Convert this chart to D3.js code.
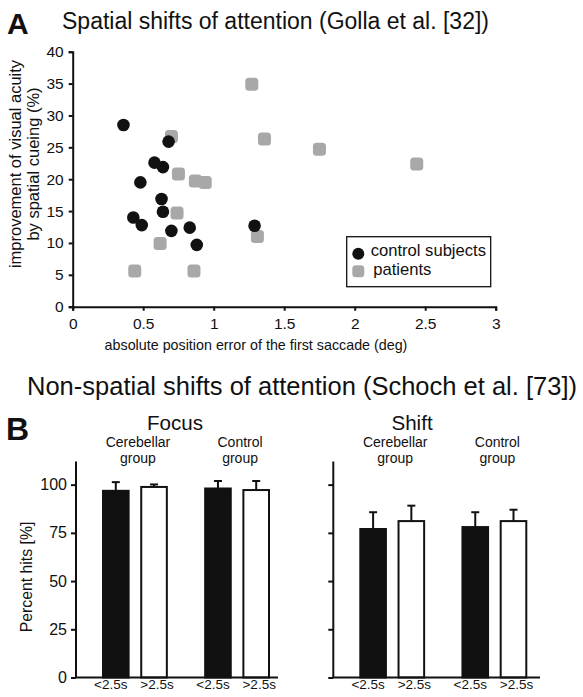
<!DOCTYPE html>
<html>
<head>
<meta charset="utf-8">
<script src="https://cdn.jsdelivr.net/npm/d3@7"></script>
<style>
  body { margin: 0; background: #fff; }
  text { font-family: "Liberation Sans", Arial, sans-serif; fill: #111; }
</style>
</head>
<body>
<script>
// ---- panel A data (scatter) ----
const controlX = [0.36, 0.68, 0.58, 0.64, 0.48, 0.63, 0.64, 0.43, 0.49, 0.70, 0.83, 0.88, 1.29]
const controlY = [28.5, 25.9, 22.6, 21.9, 19.5, 16.9, 14.9, 14.0, 12.8, 11.9, 12.4, 9.7, 12.7]
const patientX = [1.27, 0.70, 1.36, 1.75, 2.44, 0.75, 0.87, 0.94, 0.74, 1.31, 0.62, 0.44, 0.86]
const patientY = [34.9, 26.7, 26.3, 24.7, 22.4, 20.8, 19.7, 19.5, 14.7, 11.0, 9.9, 5.6, 5.6]
const scatterXTicks = [0, 0.5, 1, 1.5, 2, 2.5, 3]
const scatterYTicks = [0, 5, 10, 15, 20, 25, 30, 35, 40]
const legendLabels = ["control subjects", "patients"]

// ---- panel B data (bars) ----
const groups = ["Cerebellar group", "Control group"]
const conditions = ["<2.5s", ">2.5s"]
const focusMeans = [96.8, 98.8, 98.0, 97.2]
const focusSD = [4.5, 1.3, 3.9, 4.7]
const shiftMeans = [77.0, 81.1, 78.0, 81.1]
const shiftSD = [8.7, 8.0, 7.7, 5.9]
const barYTicks = [0, 25, 50, 75, 100]

const svg = d3.select("body")
              .append("svg")
              .attr("width", 583)
              .attr("height", 697)

const black = "#111"
const grey = "#a8a8a8"

// ================= panel A =================
svg.append("text").attr("x", 7).attr("y", 34)
   .text("A").attr("font-size", "30px").attr("font-weight", "bold")
svg.append("text").attr("x", 62).attr("y", 29)
   .text("Spatial shifts of attention (Golla et al. [32])").attr("font-size", "23px")

const xs = d3.scaleLinear().domain([0, 3]).range([72.7, 495.7])
const ys = d3.scaleLinear().domain([0, 40]).range([306.7, 51.7])

const axA = svg.append("g")
axA.append("g").attr("transform", "translate(0,306.7)")
   .call(d3.axisBottom(xs).tickValues(scatterXTicks).tickSize(4).tickPadding(7).tickFormat(d3.format("")))
axA.append("g").attr("transform", "translate(72.7,0)")
   .call(d3.axisLeft(ys).tickValues(scatterYTicks).tickSize(4).tickPadding(5))
axA.selectAll(".domain, .tick line").attr("stroke", black).attr("stroke-width", 2)
axA.selectAll("text").attr("font-size", "15.5px").attr("font-family", "Liberation Sans, Arial, sans-serif").attr("fill", black)

svg.append("text").attr("x", 256).attr("y", 350).attr("text-anchor", "middle")
   .text("absolute position error of the first saccade (deg)").attr("font-size", "14.3px")

const yl = svg.append("text").attr("transform", "translate(0,164) rotate(-90)")
   .attr("text-anchor", "middle").attr("font-size", "16.5px")
yl.append("tspan").attr("x", 0).attr("y", 21).text("improvement of visual acuity")
yl.append("tspan").attr("x", 0).attr("y", 39).text("by spatial cueing (%)")

const patients = patientX.map((x, i) => ({x: x, y: patientY[i]}))
const controls = controlX.map((x, i) => ({x: x, y: controlY[i]}))

svg.append("g").selectAll("rect").data(patients).enter().append("rect")
   .attr("x", d => xs(d.x) - 6.5).attr("y", d => ys(d.y) - 6.5)
   .attr("width", 13).attr("height", 13).attr("rx", 3.5)
   .attr("fill", grey)
svg.append("g").selectAll("circle").data(controls).enter().append("circle")
   .attr("cx", d => xs(d.x)).attr("cy", d => ys(d.y)).attr("r", 6.3)
   .attr("fill", black)

// legend
const lg = svg.append("g").attr("transform", "translate(346.7,236.7)")
lg.append("rect").attr("width", 144).attr("height", 50)
  .attr("fill", "#fff").attr("stroke", black).attr("stroke-width", 1.3)
lg.append("circle").attr("cx", 11.6).attr("cy", 17).attr("r", 6).attr("fill", black)
lg.append("rect").attr("x", 5.6).attr("y", 28.5).attr("width", 12).attr("height", 12).attr("rx", 3.5).attr("fill", grey)
lg.append("text").attr("x", 24).attr("y", 19.5).text(legendLabels[0]).attr("font-size", "16.6px")
lg.append("text").attr("x", 26.6).attr("y", 38.5).text(legendLabels[1]).attr("font-size", "16.6px")

// ================= panel B =================
svg.append("text").attr("x", 27).attr("y", 395)
   .text("Non-spatial shifts of attention (Schoch et al. [73])").attr("font-size", "25.5px")
svg.append("text").attr("x", 6).attr("y", 440)
   .text("B").attr("font-size", "32px").attr("font-weight", "bold")

function barPanel(x0, x1, title, titleX, means, sd, showLabels) {
  const g = svg.append("g").attr("transform", "translate(" + x0 + ",0)")
  const w = x1 - x0
  const y = d3.scaleLinear().domain([0, 112]).range([677.5, 461.5])
  const outer = d3.scaleBand().domain(groups).range([27, 193]).paddingInner(0.375).paddingOuter(0)
  const inner = d3.scaleBand().domain(conditions).range([0, outer.bandwidth()]).paddingInner(0.33).paddingOuter(0)

  const data = []
  groups.forEach((gr, gi) => conditions.forEach((c, ci) => {
    const k = gi * 2 + ci
    data.push({group: gr, cond: c, mean: means[k], sd: sd[k]})
  }))

  svg.append("text").attr("x", titleX).attr("y", 430).attr("text-anchor", "middle")
     .text(title).attr("font-size", "20.6px")

  // group labels
  groups.forEach(gr => {
    const parts = gr.split(" ")
    const cx = x0 + outer(gr) + outer.bandwidth() / 2 + 3
    const t = svg.append("text").attr("text-anchor", "middle").attr("font-size", "14px")
    t.append("tspan").attr("x", cx).attr("y", 447).text(parts[0])
    t.append("tspan").attr("x", cx).attr("y", 463).text(parts[1])
  })

  // error bars
  const eb = g.append("g").selectAll("g").data(data).enter().append("g")
  eb.append("line")
    .attr("x1", d => outer(d.group) + inner(d.cond) + inner.bandwidth() / 2)
    .attr("x2", d => outer(d.group) + inner(d.cond) + inner.bandwidth() / 2)
    .attr("y1", d => y(d.mean)).attr("y2", d => y(d.mean + d.sd))
    .attr("stroke", black).attr("stroke-width", 2)
  eb.append("line")
    .attr("x1", d => outer(d.group) + inner(d.cond) + inner.bandwidth() / 2 - 4)
    .attr("x2", d => outer(d.group) + inner(d.cond) + inner.bandwidth() / 2 + 4)
    .attr("y1", d => y(d.mean + d.sd)).attr("y2", d => y(d.mean + d.sd))
    .attr("stroke", black).attr("stroke-width", 2)

  g.append("g").selectAll("rect").data(data).enter().append("rect")
   .attr("x", d => outer(d.group) + inner(d.cond))
   .attr("y", d => y(d.mean))
   .attr("width", inner.bandwidth())
   .attr("height", d => y(0) - y(d.mean))
   .attr("fill", d => d.cond === conditions[0] ? black : "#fff")
   .attr("stroke", black).attr("stroke-width", 2)

  // axes
  const ya = g.append("g")
    .call(d3.axisLeft(y).tickValues(barYTicks).tickSize(5).tickPadding(4).tickFormat(showLabels ? d3.format("") : ""))
  ya.select(".domain").attr("d", "M0," + y(112) + "V" + y(0))
  ya.selectAll("text").attr("font-size", "16px").attr("font-family", "Liberation Sans, Arial, sans-serif").attr("fill", black)

  g.append("line").attr("x1", -1).attr("x2", w).attr("y1", y(0)).attr("y2", y(0))
   .attr("stroke", black).attr("stroke-width", 2)
  g.selectAll(".domain, .tick line").attr("stroke", black).attr("stroke-width", 2)

  // condition labels
  g.append("g").selectAll("text").data(data).enter().append("text")
   .attr("x", d => outer(d.group) + inner(d.cond) + inner.bandwidth() / 2 + (d.cond === conditions[0] ? -5 : 3))
   .attr("y", 689).attr("text-anchor", "middle").attr("font-size", "13.5px")
   .text(d => d.cond)
}

barPanel(76, 278, "Focus", 175, focusMeans, focusSD, true)
barPanel(333.3, 540, "Shift", 412, shiftMeans, shiftSD, false)

svg.append("text").attr("transform", "translate(32,577) rotate(-90)")
   .attr("text-anchor", "middle").attr("font-size", "15.8px").text("Percent hits [%]")
</script>
</body>
</html>
